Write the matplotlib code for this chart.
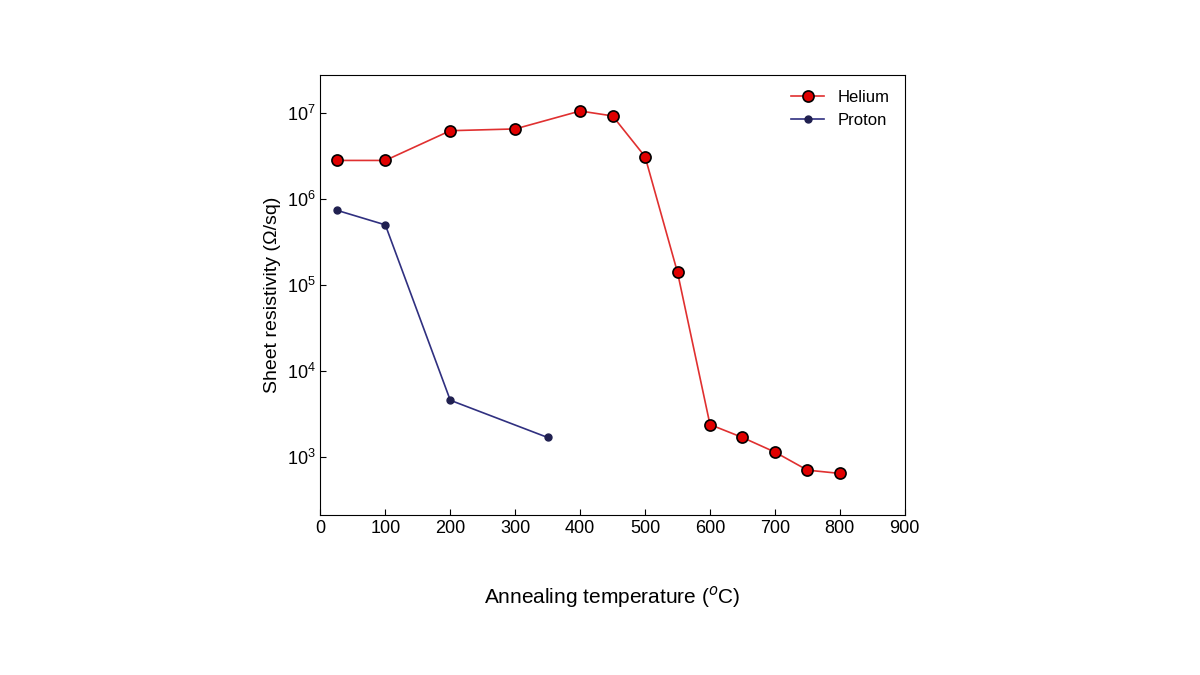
import matplotlib
matplotlib.use("Agg")
import matplotlib.pyplot as plt
from matplotlib.ticker import LogLocator, NullLocator

he_x = [25, 100, 200, 300, 400, 450, 500, 550, 600, 650, 700, 750, 800]
he_y = [2.8e6, 2.8e6, 6.2e6, 6.5e6, 1.05e7, 9.2e6, 3.1e6, 1.4e5, 2.4e3, 1.7e3, 1.15e3, 7.1e2, 6.5e2]
pr_x = [25, 100, 200, 350]
pr_y = [7.4e5, 5.0e5, 4.6e3, 1.7e3]
xticks = [0, 100, 200, 300, 400, 500, 600, 700, 800, 900]

plt.rcParams["font.family"] = "Liberation Sans"
fig = plt.figure(figsize=(12, 6.75), dpi=100)
ax = fig.add_axes([0.267, 0.237, 0.487, 0.652])
ax.plot(he_x, he_y, color="#e03030", lw=1.2, marker="o", ms=8,
        mfc="#e00000", mec="black", mew=1.2, label="Helium")
ax.plot(pr_x, pr_y, color="#303080", lw=1.2, marker="o", ms=5,
        mfc="#202050", mec="#202050", label="Proton")
ax.set_yscale("log")
ax.set_xlim(0, 900)
ax.set_ylim(10**2.33, 10**7.44)
ax.set_xticks(xticks)
ax.yaxis.set_major_locator(LogLocator(base=10, numticks=10))
ax.yaxis.set_minor_locator(NullLocator())
ax.tick_params(direction="in", labelsize=13, length=4)
ax.set_xlabel("Annealing temperature ($^o$C)", fontsize=15, labelpad=34)
ax.set_ylabel("Sheet resistivity (\u03a9/sq)", fontsize=14)
ax.legend(loc="upper right", frameon=False, fontsize=12)
fig.savefig("out.png")
